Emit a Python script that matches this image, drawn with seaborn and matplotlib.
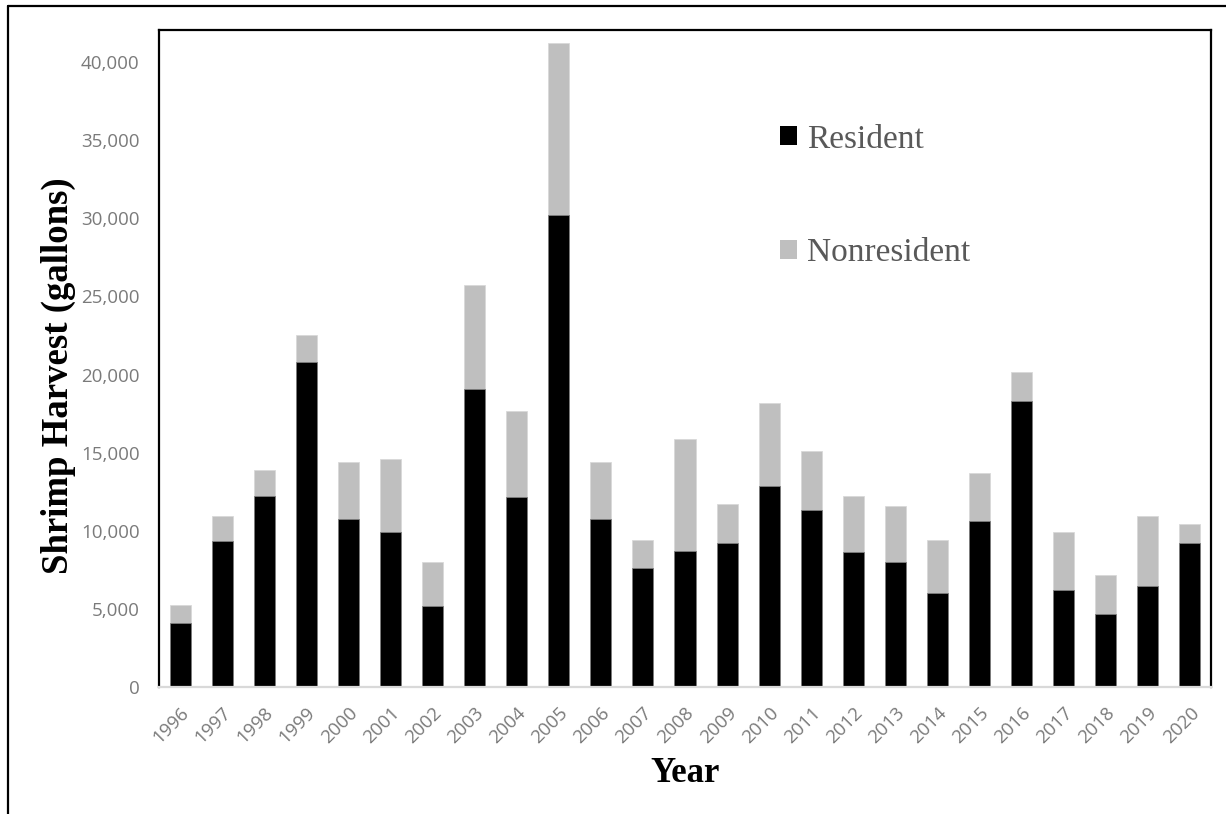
import matplotlib
matplotlib.use("Agg")
import matplotlib.pyplot as plt
from matplotlib.lines import Line2D
from matplotlib.patches import Patch
from matplotlib.ticker import FuncFormatter
import seaborn as sns
import pandas as pd

# Shrimp harvest by season, in gallons
years = [str(y) for y in range(1996, 2021)]
resident = [4120, 9350, 12230, 20790, 10730, 9940, 5160, 19080, 12160, 30200,
            10730, 7600, 8690, 9220, 12870, 11310, 8620, 7980, 6020, 10610,
            18310, 6210, 4650, 6470, 9220]
nonresident = [1110, 1620, 1640, 1750, 3650, 4640, 2860, 6680, 5490, 11000,
               3650, 1810, 7190, 2480, 5290, 3800, 3610, 3590, 3390, 3110,
               1880, 3710, 2520, 4500, 1220]
series_labels = ["Resident", "Nonresident"]

df = pd.DataFrame({"Year": years, "Resident": resident, "Nonresident": nonresident})
df["Total"] = df["Resident"] + df["Nonresident"]

RES_COLOR = "#000000"
NONRES_COLOR = "#bfbfbf"

sns.set_theme(style="white")
plt.rcParams["font.family"] = ["Open Sans", "DejaVu Sans"]

fig = plt.figure(figsize=(12.26, 8.14), dpi=100)
ax = fig.add_axes([159 / 1226, 1 - 687 / 814, (1211 - 159) / 1226, (687 - 30) / 814])

# stacked bars: total (nonresident on top) drawn first, resident over it
sns.barplot(data=df, x="Year", y="Total", color=NONRES_COLOR, saturation=1,
            width=0.5, ax=ax, edgecolor="#d9d9d9", linewidth=0.6)
sns.barplot(data=df, x="Year", y="Resident", color=RES_COLOR, saturation=1,
            width=0.5, ax=ax, edgecolor="#7f7f7f", linewidth=0.6)

ax.set_xlim(-0.5, len(years) - 0.5)
ax.set_ylim(0, 42050)
ax.set_yticks(range(0, 40001, 5000))
ax.yaxis.set_major_formatter(FuncFormatter(lambda v, p: f"{int(v):,}"))

ax.tick_params(axis="y", length=0, pad=14, labelsize=13.5, labelcolor="#7a7a7a")
ax.tick_params(axis="x", length=0, pad=12, labelsize=13.5, labelcolor="#7a7a7a")
for lab in ax.get_xticklabels():
    lab.set_rotation(45)
    lab.set_ha("right")
    lab.set_rotation_mode("anchor")

for side in ["left", "top", "right"]:
    ax.spines[side].set_visible(True)
    ax.spines[side].set_color("#000000")
    ax.spines[side].set_linewidth(1.6)
ax.spines["bottom"].set_color("#d9d9d9")
ax.spines["bottom"].set_linewidth(1.6)

ax.set_xlabel("Year", fontsize=25, fontweight="bold",
              fontfamily="Liberation Serif", color="#000000")
ax.xaxis.set_label_coords(0.5, (687 - 773) / 657)
ax.xaxis.label.set_va("center")

ax.set_ylabel("Shrimp Harvest (gallons)", fontsize=26.5, fontweight="bold",
              fontfamily="Liberation Serif", color="#000000")
ax.yaxis.set_label_coords((58 - 159) / 1052, (687 - 376) / 657)
ax.yaxis.label.set_va("center")

handles = [Patch(facecolor=RES_COLOR, edgecolor="none"),
           Patch(facecolor=NONRES_COLOR, edgecolor="none")]
leg = ax.legend(handles, series_labels, loc="upper left",
                bbox_to_anchor=((780 - 159) / 1052, (687 - 124) / 657),
                frameon=False, borderpad=0, borderaxespad=0,
                prop={"family": "Liberation Serif", "size": 24},
                handlelength=0.52, handleheight=0.52, handletextpad=0.3,
                labelspacing=2.5)
for t in leg.get_texts():
    t.set_color("#595959")

# outer chart frame (left and top edges)
fig.add_artist(Line2D([8 / 1226, 8 / 1226], [0, 1 - 6 / 814], color="black",
                      linewidth=1.6, transform=fig.transFigure))
fig.add_artist(Line2D([8 / 1226, 1], [1 - 6 / 814, 1 - 6 / 814], color="black",
                      linewidth=1.6, transform=fig.transFigure))

fig.savefig("out.png", dpi=100)
